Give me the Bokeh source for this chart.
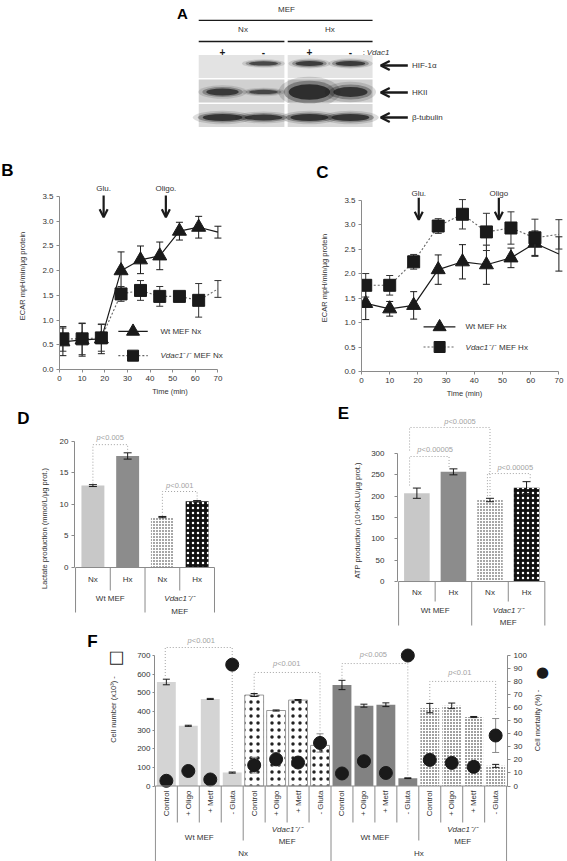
import math
from bokeh.plotting import figure
from bokeh.layouts import column, row
from bokeh.models import (Range1d, LinearAxis, FixedTicker, Arrow, OpenHead,
                          PrintfTickFormatter)
from bokeh.core.properties import value
from bokeh.embed import file_html
from bokeh.resources import INLINE

FONT = "Liberation Sans"
INK = "#1a1a1a"
AXIS = "#8a8a8a"
PGRAY = "#a3a3a3"
TXT = "#333333"

# ---------------- data ----------------
# A: western blot, lanes = Nx/Vdac1+, Nx/Vdac1-, Hx/Vdac1+, Hx/Vdac1-
blot_condition = ["Nx", "Nx", "Hx", "Hx"]
blot_vdac1 = ["+", "-", "+", "-"]
blot_proteins = ["HIF-1α", "HKII", "β-tubulin"]
hif1a_signal = [0.0, 0.80, 0.88, 0.90]
hkii_signal = [0.88, 0.78, 1.00, 0.95]
tubulin_signal = [0.92, 0.90, 0.95, 0.92]

# B, C: ECAR time courses
time_min = [1.5, 10.0, 18.5, 27.2, 35.8, 44.3, 53.0, 61.5, 70.0]
ecar_wt_nx = [0.56, 0.60, 0.62, 2.00, 2.22, 2.30, 2.80, 2.88, 2.78]
ecar_wt_nx_sd = [0.28, 0.33, 0.30, 0.38, 0.28, 0.28, 0.18, 0.22, 0.12]
ecar_ko_nx = [0.62, 0.62, 0.64, 1.53, 1.60, 1.48, 1.48, 1.40, 1.63]
ecar_ko_nx_sd = [0.25, 0.32, 0.27, 0.15, 0.20, 0.20, 0.05, 0.34, 0.17]
ecar_wt_hx = [1.39, 1.28, 1.35, 2.08, 2.24, 2.18, 2.32, 2.62, 2.40]
ecar_wt_hx_sd = [0.33, 0.15, 0.28, 0.30, 0.35, 0.40, 0.20, 0.25, 0.35]
ecar_ko_hx = [1.76, 1.76, 2.24, 2.97, 3.21, 2.85, 2.93, 2.73, 2.80]
ecar_ko_hx_sd = [0.24, 0.20, 0.15, 0.15, 0.30, 0.38, 0.33, 0.38, 0.30]
glucose_min_b, oligo_min_b = 19.5, 47.0
glucose_min_c, oligo_min_c = 20.3, 48.7

# D, E: bars
bar_conditions = ["Nx", "Hx", "Nx", "Hx"]
bar_lines = ["Wt MEF", "Vdac1⁻/⁻ MEF"]
lactate = [13.0, 17.7, 8.0, 10.5]
lactate_sd = [0.15, 0.5, 0.1, 0.12]
lactate_p = ["p<0.005", "p<0.001"]
atp = [207, 257, 191, 220]
atp_sd = [12, 7, 4, 14]
atp_p = ["p<0.0005", "p<0.00005", "p<0.00005"]

# F: cell number / mortality
f_treatments = ["Control", "+ Oligo", "+ Metf", "- Gluta"]
f_lines = ["Wt MEF", "Vdac1⁻/⁻ MEF", "Wt MEF", "Vdac1⁻/⁻ MEF"]
f_oxygen = ["Nx", "Hx"]
cell_number = [558, 323, 467, 72, 488, 405, 461, 218, 542, 431, 436, 42, 418, 430, 370, 108]
cell_number_sd = [15, 3, 3, 3, 8, 3, 3, 10, 25, 8, 10, 2, 25, 15, 3, 8]
cell_mortality = [4, 11.5, 5, 93, 16, 20.5, 18, 33, 9.6, 19, 10, 100, 20, 17.7, 14.7, 38.7]
cell_mortality_sd = [1, 2, 1, 1, 6, 5, 4, 7, 1, 2, 1, 1, 3, 3, 2, 13]
cell_p = ["p<0.001", "p<0.001", "p<0.005", "p<0.01"]


# ---------------- helpers ----------------
def mkfig(w, h, xr, yr, left, right, top, bottom, xaxis=True, yaxis=True):
    p = figure(width=w, height=h, x_range=Range1d(*xr), y_range=Range1d(*yr),
               output_backend="svg", toolbar_location=None, frame_align=False,
               x_axis_location="below" if xaxis else None,
               y_axis_location="left" if yaxis else None,
               min_border_left=left, min_border_right=right,
               min_border_top=top, min_border_bottom=bottom)
    p.outline_line_color = None
    p.grid.visible = False
    return p


def gutter(w, h):
    return mkfig(w, h, (0, w), (0, h), 0, 0, 0, 0, xaxis=False, yaxis=False)


def style_axis(ax, tick_size="8px", label_size="7.5px", standoff=3, tick_out=3):
    ax.axis_line_color = AXIS
    ax.major_tick_line_color = AXIS
    ax.minor_tick_line_color = None
    ax.major_tick_out = tick_out
    ax.major_tick_in = 0
    ax.major_label_text_font = FONT
    ax.major_label_text_font_size = tick_size
    ax.major_label_text_color = TXT
    ax.major_label_standoff = standoff
    ax.axis_label_text_font = FONT
    ax.axis_label_text_font_size = label_size
    ax.axis_label_text_font_style = "normal"
    ax.axis_label_text_color = TXT


def txt(p, x, y, s, size="8px", align="center", baseline="middle", style="normal",
        color=TXT, angle=0.0, x_offset=0, font=FONT, **kw):
    p.text(x=[x], y=[y], text=[s], text_font=value(font), text_font_size=value(size),
           text_align=align, text_baseline=baseline, text_font_style=style,
           text_color=color, angle=angle, x_offset=x_offset, **kw)


def letter(g, x, y, s):
    txt(g, x, y, s, size="17px", style="bold", color="black")


def errorbars(p, xs, ys, es, cap, color=INK, width=1.0, **kw):
    lo = [y - e for y, e in zip(ys, es)]
    hi = [y + e for y, e in zip(ys, es)]
    p.segment(x0=list(xs), y0=lo, x1=list(xs), y1=hi, line_color=color, line_width=width, **kw)
    p.scatter(x=list(xs) * 2, y=lo + hi, marker="dash", size=cap, line_color=color,
              line_width=width, **kw)


AW = {"p": 556, "<": 584, ".": 278}


def ptext(p, x, y, s, size=7.5):
    w = sum(AW.get(c, 556) for c in s) * size / 1000.0
    wp = AW["p"] * size / 1000.0
    common = dict(text_font=value(FONT), text_font_size=value(f"{size}px"),
                  text_align="left", text_baseline="middle", text_color=PGRAY)
    p.text(x=[x], y=[y], text=["p"], x_offset=-w / 2, text_font_style="italic", **common)
    p.text(x=[x], y=[y], text=[s[1:]], x_offset=-w / 2 + wp, **common)


def bracket(p, xa, xb, yh, ya, yb):
    p.multi_line(xs=[[xa, xa, xb, xb]], ys=[[ya, yh, yh, yb]], line_color=PGRAY,
                 line_dash="1 2", line_width=1)


def ko_label(p, x, y1, y2, size="8px"):
    txt(p, x, y1, "Vdac1⁻/⁻", size=size, style="italic")
    txt(p, x, y2, "MEF", size=size)


# ---------------- A: blot ----------------
pA = mkfig(567, 138, (-5.415, 8.415), (-2.939, 2.694), 0, 0, 0, 0, xaxis=False, yaxis=False)
lane_x = [i + 0.12 * (i >= 2) for i in range(len(blot_vdac1))]
row_bg = ["#e3e3e3", "#d0d0d0", "#d9d9d9"]
band_w_px = [[32, 32, 31, 33], [36, 32, 46, 38], [44, 42, 42, 42]]
band_h_px = [[5, 5, 6, 6], [8, 5, 18, 12], [8, 7, 8, 8]]
band_dy_px = [3, -1, -2]
LPX, RPX = 41.0, 24.5
signals = [hif1a_signal, hkii_signal, tubulin_signal]
box_l = [lane_x[0] - 0.58, lane_x[2] - 0.53]
box_r = [lane_x[1] + 0.51, lane_x[3] + 0.54]
for r in range(3):
    pA.quad(left=box_l, right=box_r, top=[-r + 0.47] * 2, bottom=[-r - 0.47] * 2,
            fill_color=row_bg[r], line_color=None)
    for i in range(4):
        s = signals[r][i]
        if s <= 0:
            continue
        for sc, sh, al in [(1.35, 1.7, 0.16), (1.12, 1.25, 0.35), (0.9, 0.85, 0.8)]:
            pA.ellipse(x=[lane_x[i]], y=[-r + band_dy_px[r] / RPX],
                       width=[band_w_px[r][i] * sc / LPX], height=[band_h_px[r][i] * sh / RPX],
                       fill_color=INK, fill_alpha=al * s, line_color=None)
mid = (lane_x[0] + lane_x[3]) / 2
txt(pA, mid, 2.33, "MEF", size="8px")
pA.segment(x0=[box_l[0]], y0=[1.88], x1=[box_r[1]], y1=[1.88], line_color=INK, line_width=1.3)
for k, cond in enumerate(["Nx", "Hx"]):
    cx = (lane_x[2 * k] + lane_x[2 * k + 1]) / 2
    txt(pA, cx, 1.51, cond, size="8px")
    pA.segment(x0=[box_l[k]], y0=[1.02], x1=[box_r[k]], y1=[1.02], line_color=INK, line_width=1.3)
for i, s in enumerate(blot_vdac1):
    txt(pA, lane_x[i], 0.6, s, size="10px", style="bold", color=INK)
txt(pA, 3.42, 0.58, ":", size="8px", align="left")
txt(pA, 3.42, 0.58, "Vdac1", size="8px", align="left", style="italic", x_offset=4)
for r, name in enumerate(blot_proteins):
    yy = -r + [0.04, -0.06, -0.08][r]
    pA.add_layout(Arrow(x_start=4.52, y_start=yy, x_end=3.86, y_end=yy, line_width=2.4,
                        line_color=INK, end=OpenHead(size=9, line_width=2.4, line_color=INK)))
    txt(pA, 4.62, yy, name, size="8px", align="left")
txt(pA, -0.98, 2.16, "A", size="15px", style="bold", color="black")


# ---------------- B, C: ECAR ----------------
def ecar_panel(w, h, borders, xmax, ymax, wt, wt_sd, ko, ko_sd, glu_t, oligo_t, oligo_txt,
               cond, leg_x, leg_y, arrow_y):
    left, right, top, bottom = borders
    p = mkfig(w, h, (0, xmax), (0, ymax), left, right, top, bottom)
    style_axis(p.xaxis[0])
    style_axis(p.yaxis[0])
    p.xaxis.ticker = FixedTicker(ticks=list(range(0, 71, 10)))
    p.xaxis.bounds = (0, 70)
    p.yaxis.ticker = FixedTicker(ticks=[i * 0.5 for i in range(8)])
    p.yaxis.bounds = (0, 3.5)
    p.yaxis.formatter = PrintfTickFormatter(format="%.1f")
    p.xaxis.axis_label = "Time (min)"
    p.xaxis.axis_label_standoff = 3
    p.yaxis.axis_label = "ECAR mpH/min/µg protein"
    p.yaxis.axis_label_standoff = 12
    # WT (solid, triangles)
    p.line(time_min, wt, line_color=INK, line_width=1.2)
    errorbars(p, time_min, wt, wt_sd, 7, INK, 1.0)
    p.scatter(time_min[:-1], wt[:-1], marker="triangle", size=14, color=INK)
    # KO (dotted, squares)
    p.line(time_min, ko, line_color="#666666", line_dash="2 2", line_width=1.1)
    errorbars(p, time_min, ko, ko_sd, 7, "#333333", 1.0)
    p.scatter(time_min[:-1], ko[:-1], marker="square", size=12, color=INK)
    # legend
    x0, x1, xm, xt = leg_x
    p.line([x0, x1], [leg_y[0]] * 2, line_color=INK, line_width=1.2)
    p.scatter([xm], [leg_y[0]], marker="triangle", size=13, color=INK)
    txt(p, xt, leg_y[0], "Wt MEF " + cond, size="8px", align="left")
    p.line([x0, x1], [leg_y[1]] * 2, line_color="#666666", line_dash="2 2", line_width=1.1)
    p.scatter([xm], [leg_y[1]], marker="square", size=11, color=INK)
    txt(p, xt, leg_y[1], "Vdac1", size="8px", align="left", style="italic")
    txt(p, xt, leg_y[1], "⁻/⁻ MEF " + cond, size="8px", align="left", x_offset=23)
    # injections
    a0, a1, at = arrow_y
    for t, lab in [(glu_t, "Glu."), (oligo_t, oligo_txt)]:
        p.add_layout(Arrow(x_start=t, y_start=a0, x_end=t, y_end=a1, line_width=2.2, line_color=INK,
                           end=OpenHead(size=8, line_width=2.2, line_color=INK)))
        txt(p, t, at, lab, size="8px")
    return p


gB = gutter(285, 44)
letter(gB, 7, 12, "B")
pB = ecar_panel(285, 218, (59, 5, 0, 31), 97.66, 3.785, ecar_wt_nx, ecar_wt_nx_sd, ecar_ko_nx,
                ecar_ko_nx_sd, glucose_min_b, oligo_min_b, "Oligo.", "Nx",
                (26.0, 39.0, 32.5, 44.6), (0.77, 0.28), (3.52, 3.08, 3.67))
gC = gutter(282, 46)
letter(gC, 37, 12, "C")
pC = ecar_panel(282, 216, (76, 0, 0, 27), 73.05, 3.818, ecar_wt_hx, ecar_wt_hx_sd, ecar_ko_hx,
                ecar_ko_hx_sd, glucose_min_c, oligo_min_c, "Oligo", "Hx",
                (22.0, 33.3, 27.7, 36.9), (0.91, 0.50), (3.55, 3.1, 3.64))


# ---------------- D, E: bars ----------------
def bar_styles(p, xs, vals, width):
    p.vbar(x=[xs[0]], top=[vals[0]], width=width, fill_color="#c8c8c8", line_color=None)
    p.vbar(x=[xs[1]], top=[vals[1]], width=width, fill_color="#8c8c8c", line_color=None)
    p.vbar(x=[xs[2]], top=[vals[2]], width=width, fill_color="white", line_color=None,
           hatch_pattern="dot", hatch_color="#222222", hatch_scale=3, hatch_weight=1.0)
    p.vbar(x=[xs[3]], top=[vals[3]], width=width, fill_color="#111111", line_color=None,
           hatch_pattern="dot", hatch_color="white", hatch_scale=5, hatch_weight=1.3)


def category_table(p, ppu, sub_px, sub_sep_px, grp_sep_px, grp1_px, grp2_px):
    n = len(bar_conditions)
    d = lambda px: -px / ppu
    p.segment(x0=[0], y0=[0], x1=[n], y1=[0], line_color=AXIS)
    xs_sub = [1, 3]
    p.segment(x0=xs_sub, y0=[0, 0], x1=xs_sub, y1=[d(sub_sep_px)] * 2, line_color=AXIS)
    xs_grp = [0, 2, 4]
    p.segment(x0=xs_grp, y0=[0] * 3, x1=xs_grp, y1=[d(grp_sep_px)] * 3, line_color=AXIS)
    p.text(x=[i + 0.5 for i in range(n)], y=[d(sub_px)] * n, text=bar_conditions,
           text_font=value(FONT), text_font_size=value("8px"), text_align="center",
           text_baseline="middle", text_color=TXT)
    txt(p, 1.0, d(grp1_px), bar_lines[0], size="8px")
    ko_label(p, 3.0, d(grp1_px), d(grp2_px))


bx = [0.5, 1.5, 2.5, 3.5]
gD = gutter(35, 228)
letter(gD, 23, 210, "D")
pD = mkfig(250, 228, (-0.03, 5.90), (-9.68, 22.06), 39, 5, 28, 0, xaxis=False)
style_axis(pD.yaxis[0])
pD.yaxis.ticker = FixedTicker(ticks=[0, 5, 10, 15, 20])
pD.yaxis.bounds = (0, 20)
pD.yaxis.axis_label = "Lactate production (mmol/L/µg prot.)"
pD.yaxis.axis_label_standoff = 8
bar_styles(pD, bx, lactate, 0.66)
errorbars(pD, bx, lactate, lactate_sd, 8)
bracket(pD, 0.5, 1.5, 19.5, 13.3, 18.3)
ptext(pD, 1.0, 20.6, lactate_p[0])
bracket(pD, 2.5, 3.5, 12.06, 8.2, 10.75)
ptext(pD, 3.0, 13.05, lactate_p[1])
category_table(pD, 6.3, 12, 23, 45, 31, 44)

gE = gutter(65, 228)
letter(gE, 58, 215, "E")
pE = mkfig(217, 228, (-0.03, 4.62), (-110.1, 396.1), 45, 0, 12, 0, xaxis=False)
style_axis(pE.yaxis[0], standoff=10)
pE.yaxis.ticker = FixedTicker(ticks=[0, 50, 100, 150, 200, 250, 300])
pE.yaxis.bounds = (0, 300)
pE.yaxis.axis_label = "ATP production (10⁴xRLU/µg prot.)"
pE.yaxis.axis_label_standoff = 6
bar_styles(pE, bx, atp, 0.7)
errorbars(pE, bx, atp, atp_sd, 8)
bracket(pE, 0.3, 2.5, 361, 307, 200)
ptext(pE, 1.68, 375, atp_p[0])
bracket(pE, 0.3, 1.38, 293, 225, 268)
ptext(pE, 1.0, 309, atp_p[1])
bracket(pE, 2.43, 3.6, 253, 200, 237)
ptext(pE, 3.19, 267, atp_p[2])
category_table(pE, 0.4267, 11, 20, 44, 29, 41)


# ---------------- F ----------------
PPU_F = 0.1864
dF = lambda px: -px / PPU_F
pF = mkfig(401, 233, (-0.04, 16.04), (-405, 823.5), 26, 22, 4, 0, xaxis=False)
pF.extra_y_ranges = {"mort": Range1d(-405 / 7.0, 823.5 / 7.0)}
style_axis(pF.yaxis[0], standoff=2, tick_out=2)
pF.yaxis.ticker = FixedTicker(ticks=list(range(0, 701, 100)))
pF.yaxis.bounds = (0, 700)
rax = LinearAxis(y_range_name="mort")
style_axis(rax, standoff=3, tick_out=3)
rax.ticker = FixedTicker(ticks=list(range(0, 101, 10)))
rax.bounds = (0, 100)
pF.add_layout(rax, "right")

n = len(cell_number)
fx = [i + 0.5 for i in range(n)]
bw = 0.86
g = [fx[0:4], fx[4:8], fx[8:12], fx[12:16]]
pF.vbar(x=g[0], top=cell_number[0:4], width=bw, fill_color="#d4d4d4", line_color=None)
pF.vbar(x=g[1], top=cell_number[4:8], width=bw, fill_color="white", line_color="#9a9a9a",
        hatch_pattern="dot", hatch_color="#222222", hatch_scale=7, hatch_weight=0.9)
pF.vbar(x=g[2], top=cell_number[8:12], width=bw, fill_color="#828282", line_color=None)
pF.vbar(x=g[3], top=cell_number[12:16], width=bw, fill_color="white", line_color=None,
        hatch_pattern="dot", hatch_color="#111111", hatch_scale=3, hatch_weight=1.7)
errorbars(pF, fx, cell_number, cell_number_sd, 7)
errorbars(pF, fx, cell_mortality, cell_mortality_sd, 7, color="#8a8a8a", y_range_name="mort")

bracket(pF, 0.45, 3.5, 743, 590, 75)
ptext(pF, 2.09, 781, cell_p[0])
bracket(pF, 4.5, 7.5, 609, 500, 240)
ptext(pF, 5.98, 657, cell_p[1])
bracket(pF, 8.5, 11.5, 657, 575, 45)
ptext(pF, 9.93, 705, cell_p[2])
bracket(pF, 12.5, 15.5, 561, 445, 380)
ptext(pF, 13.87, 609, cell_p[3])

pF.scatter(fx, cell_mortality, y_range_name="mort", marker="circle", size=13, color=INK)

# category table
pF.segment(x0=[0], y0=[0], x1=[16], y1=[0], line_color=AXIS)
sub_x = [i for i in range(1, 16) if i % 4 != 0]
pF.segment(x0=sub_x, y0=[0] * len(sub_x), x1=sub_x, y1=[dF(36.5)] * len(sub_x), line_color=AXIS)
pF.segment(x0=[4, 12], y0=[0, 0], x1=[4, 12], y1=[dF(54.5)] * 2, line_color=AXIS)
pF.segment(x0=[0, 8, 16], y0=[0] * 3, x1=[0, 8, 16], y1=[-405] * 3, line_color=AXIS)
pF.text(x=fx, y=[dF(4.5)] * n, text=f_treatments * 4, text_font=value(FONT),
        text_font_size=value("8px"), text_align="right", text_baseline="middle",
        text_color=TXT, angle=math.pi / 2)
for k, lab in enumerate(f_lines):
    cx = 4 * k + 2
    if lab.startswith("Wt"):
        txt(pF, cx, dF(51.5), lab, size="8px")
    else:
        ko_label(pF, cx, dF(43.5), dF(55.5))
for k, ox in enumerate(f_oxygen):
    txt(pF, 8 * k + 4, dF(67.5), ox, size="8px")

gFL = gutter(128, 233)
letter(gFL, 92, 220, "F")
txt(gFL, 113, 152, "Cell number (x10³) -", size="7.5px", angle=math.pi / 2)
txt(gFL, 114, 203, "□", size="17px", font="DejaVu Sans", color=INK, angle=math.pi / 2)
gFR = gutter(38, 233)
txt(gFR, 8, 141, "Cell mortality (%) -", size="7.5px", angle=math.pi / 2)
txt(gFR, 13, 190, "●", size="15px", font="DejaVu Sans", color=INK)

layout = column(pA,
                row(column(gB, pB), column(gC, pC)),
                row(gD, pD, gE, pE),
                row(gFL, pF, gFR))
open("out.html", "w").write(file_html(layout, INLINE))
